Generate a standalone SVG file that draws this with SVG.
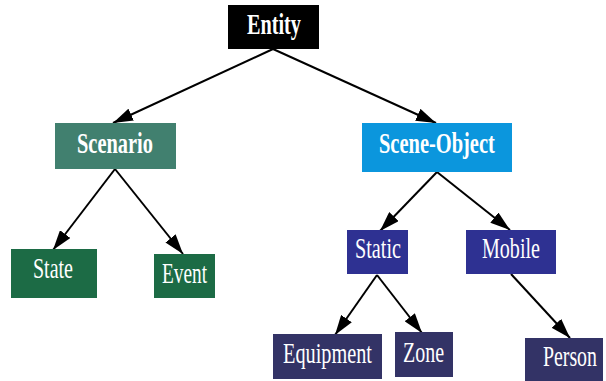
<svg xmlns="http://www.w3.org/2000/svg" width="606" height="381" viewBox="0 0 606 381">
<defs>
<style>
.lbl{font-family:"Liberation Serif","Times New Roman",serif;font-size:30px;fill:#ffffff}
.b{font-weight:bold}
.edge{stroke:#000;stroke-width:2;fill:none}
</style>
<marker id="arr" viewBox="0 0 20 13" refX="20" refY="6.5" markerWidth="20" markerHeight="13" markerUnits="userSpaceOnUse" orient="auto">
<path d="M0,0 L20,6.5 L0,13 z" fill="#000"/>
</marker>
</defs>
<rect width="606" height="381" fill="#ffffff"/>
<g id="connectors">
<line class="edge" x1="273" y1="49" x2="113" y2="123" marker-end="url(#arr)"/>
<line class="edge" x1="273" y1="49" x2="436" y2="123" marker-end="url(#arr)"/>
<line class="edge" x1="115" y1="169" x2="53" y2="250" marker-end="url(#arr)"/>
<line class="edge" x1="115" y1="169" x2="183" y2="254" marker-end="url(#arr)"/>
<line class="edge" x1="437" y1="172" x2="380" y2="231" marker-end="url(#arr)"/>
<line class="edge" x1="437" y1="172" x2="510" y2="230" marker-end="url(#arr)"/>
<line class="edge" x1="377" y1="275" x2="335" y2="335" marker-end="url(#arr)"/>
<line class="edge" x1="377" y1="275" x2="422" y2="333" marker-end="url(#arr)"/>
<line class="edge" x1="511" y1="274" x2="570" y2="338" marker-end="url(#arr)"/>
</g>
<g id="entity">
<rect x="228" y="5" width="91" height="44" fill="#000000"/>
<text class="lbl b" transform="translate(247,34) scale(0.675,1)">Entity</text>
</g>
<g id="scenario">
<rect x="55" y="123" width="121" height="46" fill="#41806f"/>
<text class="lbl b" transform="translate(77,153) scale(0.68,1)">Scenario</text>
</g>
<g id="scene-object">
<rect x="362" y="123" width="150" height="49" fill="#0b96dd"/>
<text class="lbl b" transform="translate(379,153) scale(0.682,1)">Scene-Object</text>
</g>
<g id="state">
<rect x="11" y="249" width="86" height="49" fill="#1c6b45"/>
<text class="lbl" transform="translate(33,278) scale(0.667,1)">State</text>
</g>
<g id="event">
<rect x="154" y="254" width="61" height="44" fill="#1c6b45"/>
<text class="lbl" transform="translate(162,283) scale(0.643,1)">Event</text>
</g>
<g id="static">
<rect x="347" y="230" width="61" height="44" fill="#2e3192"/>
<text class="lbl" transform="translate(355,258) scale(0.673,1)">Static</text>
</g>
<g id="mobile">
<rect x="466" y="230" width="90" height="44" fill="#2e3192"/>
<text class="lbl" transform="translate(482,258) scale(0.669,1)">Mobile</text>
</g>
<g id="equipment">
<rect x="273" y="334" width="109" height="45" fill="#333366"/>
<text class="lbl" transform="translate(283,363) scale(0.676,1)">Equipment</text>
</g>
<g id="zone">
<rect x="395" y="332" width="58" height="45" fill="#333366"/>
<text class="lbl" transform="translate(403,362) scale(0.665,1)">Zone</text>
</g>
<g id="person">
<rect x="525" y="338" width="78" height="43" fill="#333366"/>
<text class="lbl" transform="translate(543,366) scale(0.661,1)">Person</text>
</g>
</svg>
